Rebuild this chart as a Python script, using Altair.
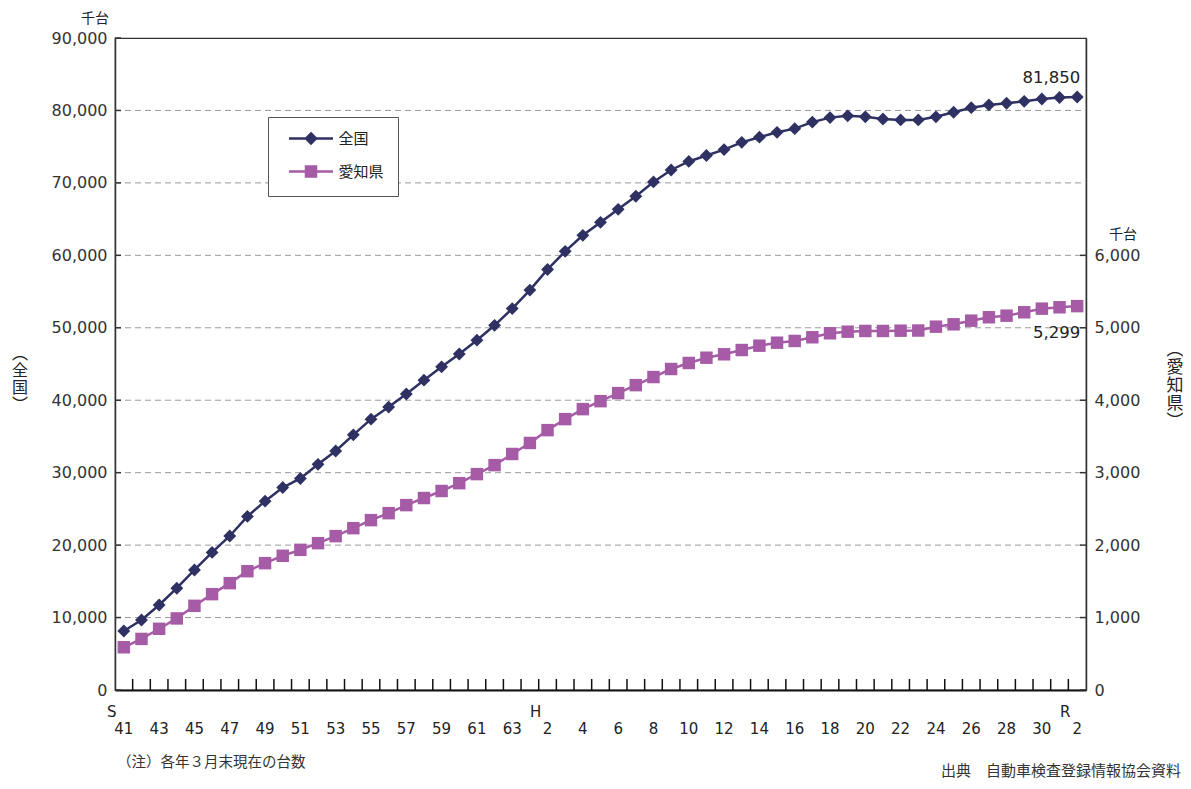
import altair as alt
import pandas as pd

# ---------------- data ----------------
categories = [
    "S41", "S42", "S43", "S44", "S45", "S46", "S47", "S48", "S49", "S50",
    "S51", "S52", "S53", "S54", "S55", "S56", "S57", "S58", "S59", "S60",
    "S61", "S62", "S63",
    "H1", "H2", "H3", "H4", "H5", "H6", "H7", "H8", "H9", "H10",
    "H11", "H12", "H13", "H14", "H15", "H16", "H17", "H18", "H19", "H20",
    "H21", "H22", "H23", "H24", "H25", "H26", "H27", "H28", "H29", "H30",
    "H31", "R2",
]
# 全国 (千台)
zenkoku = [
    8150, 9660, 11730, 14050, 16570, 18990, 21260, 23960, 26070, 27950,
    29200, 31150, 32990, 35220, 37390, 39050, 40860, 42770, 44610, 46380,
    48290, 50340, 52650,
    55200, 58050, 60550, 62760, 64550, 66350, 68150, 70130, 71780, 72960,
    73780, 74600, 75600, 76310, 76980, 77490, 78390, 79010, 79260, 79120,
    78820, 78690, 78690, 79120, 79750, 80380, 80760, 80990, 81260, 81580,
    81790, 81850,
]
# 愛知県 (千台)
aichi = [
    590, 705, 845, 988, 1162, 1323, 1475, 1640, 1751, 1853,
    1935, 2027, 2124, 2234, 2345, 2441, 2552, 2650, 2747, 2855,
    2980, 3104, 3258,
    3410, 3587, 3739, 3877, 3987, 4098, 4208, 4320, 4431, 4514,
    4587, 4634, 4693, 4753, 4794, 4818, 4869, 4924, 4946, 4956,
    4956, 4960, 4962, 5015, 5048, 5098, 5145, 5167, 5214, 5264,
    5283, 5299,
]
series_names = ["全国", "愛知県"]
series_colors = ["#2e3162", "#a55ba5"]

left_ticks = [0, 10000, 20000, 30000, 40000, 50000, 60000, 70000, 80000, 90000]
grid_values = [10000, 20000, 30000, 40000, 50000, 60000, 70000, 80000]
right_ticks = [0, 1000, 2000, 3000, 4000, 5000, 6000]

x_label_cats = ["S41", "S43", "S45", "S47", "S49", "S51", "S53", "S55", "S57",
                "S59", "S61", "S63", "H2", "H4", "H6", "H8", "H10", "H12",
                "H14", "H16", "H18", "H20", "H22", "H24", "H26", "H28", "H30", "R2"]
x_label_texts = ["41", "43", "45", "47", "49", "51", "53", "55", "57",
                 "59", "61", "63", "2", "4", "6", "8", "10", "12",
                 "14", "16", "18", "20", "22", "24", "26", "28", "30", "2"]
era_cats = ["S41", "H2", "R2"]
era_texts = ["S", "H", "R"]

unit_text = "千台"
left_title = ["︵", "全", "国", "︶"]
right_title = ["︵", "愛", "知", "県", "︶"]
note_text = "（注）各年３月末現在の台数"
source_text = "出典　自動車検査登録情報協会資料"

# ---------------- layout constants ----------------
W, H = 971, 652
NUM_FONT = "DejaVu Sans"
JP_FONT = "Noto Sans CJK JP"
TXT = "#222222"

n = len(categories)
df = pd.DataFrame({"cat": categories, "idx": list(range(n)),
                   "zenkoku": zenkoku, "aichi": aichi})
last_df = df[df["idx"] == n - 1]

xlab_df = pd.DataFrame({"idx": [categories.index(c) for c in x_label_cats],
                        "t": x_label_texts})
era_df = pd.DataFrame({"idx": [categories.index(c) for c in era_cats],
                       "t": era_texts})
xtick_df = pd.DataFrame({"idx": [i + 0.5 for i in range(n - 1)]})
ltick_df = pd.DataFrame({"zenkoku": left_ticks})
grid_df = pd.DataFrame({"zenkoku": grid_values})
rtick_df = pd.DataFrame({"aichi": right_ticks})
one = pd.DataFrame({"a": [0]})

xs = alt.Scale(domain=[-0.5, n - 0.5], nice=False, zero=False)
yL = alt.Scale(domain=[0, 90000], nice=False)
yR = alt.Scale(domain=[0, 9000], nice=False)

x_axis = alt.Axis(labels=False, ticks=False, grid=False, title=None,
                  domainColor="#111111", domainWidth=2)
yL_axis = alt.Axis(orient="left", values=left_ticks, format=",.0f", grid=False,
                   ticks=False, labelPadding=8, labelFont=NUM_FONT,
                   labelFontSize=16, labelColor="#333333",
                   domainColor="#333333", domainWidth=1.5, title=None)
yR_axis = alt.Axis(orient="right", values=right_ticks, format=",.0f", grid=False,
                   ticks=False, labelPadding=8, labelFont=NUM_FONT,
                   labelFontSize=16, labelColor="#333333",
                   domainColor="#333333", domainWidth=1.5, title=None)


def X():
    return alt.X("idx:Q", scale=xs, axis=x_axis)


def YL():
    return alt.Y("zenkoku:Q", scale=yL, axis=yL_axis)


def YR():
    return alt.Y("aichi:Q", scale=yR, axis=yR_axis)


# ---------------- left (全国) group ----------------
grid = alt.Chart(grid_df).mark_rule(color="#9a9a9a", strokeWidth=1, strokeDash=[6, 4]).encode(
    y=YL(), x=alt.value(0), x2=alt.value(W))
zen_line = alt.Chart(df).mark_line(color=series_colors[0], strokeWidth=2.5).encode(
    x=X(), y=YL())
zen_pts = alt.Chart(df).mark_point(shape="diamond", filled=True, size=165,
                                   opacity=1, color=series_colors[0]).encode(
    x=X(), y=YL())
zen_lab = alt.Chart(last_df).mark_text(align="right", baseline="middle", dx=3, dy=-19,
                                       font=NUM_FONT, fontSize=16.5, color=TXT).encode(
    x=X(), y=YL(), text=alt.Text("zenkoku:Q", format=","))
l_ticks = alt.Chart(ltick_df).mark_rule(color="#333333", strokeWidth=1.5).encode(
    y=YL(), x=alt.value(0), x2=alt.value(6))
x_ticks = alt.Chart(xtick_df).mark_rule(color="#111111", strokeWidth=1.5).encode(
    x=X(), y=alt.value(H), y2=alt.value(H - 11))
x_nums = alt.Chart(xlab_df).mark_text(baseline="middle", align="center", font=NUM_FONT,
                                      fontSize=15, color=TXT).encode(
    x=X(), y=alt.value(H + 39), text="t:N")
x_eras = alt.Chart(era_df).mark_text(baseline="middle", align="center", dx=-12,
                                     font=NUM_FONT, fontSize=15, color=TXT).encode(
    x=X(), y=alt.value(H + 22), text="t:N")

legend_paths = [
    "M-4.4,0H4.4M0,-1L1,0L0,1L-1,0Z",
    "M-4.4,0H4.4M-1,-1H1V1H-1Z",
]
leg = alt.Legend(title=None, orient="none", legendX=153, legendY=79,
                 direction="vertical", strokeColor="#555555", fillColor="white",
                 padding=14, labelFont=JP_FONT, labelFontSize=15, labelColor=TXT,
                 symbolSize=100, symbolStrokeWidth=2.5, symbolOffset=21.5,
                 labelOffset=20, rowPadding=12)
legend_layer = alt.Chart(pd.DataFrame({"series": series_names})).mark_point(
    filled=True, opacity=1, strokeWidth=2.5).encode(
    color=alt.Color("series:N", scale=alt.Scale(domain=series_names, range=series_colors), legend=leg),
    stroke=alt.Stroke("series:N", scale=alt.Scale(domain=series_names, range=series_colors), legend=leg),
    shape=alt.Shape("series:N", scale=alt.Scale(domain=series_names, range=legend_paths), legend=leg),
).transform_filter("false")

unit_l = alt.Chart(one).mark_text(text=unit_text, font=JP_FONT, fontSize=14, color=TXT,
                                  align="center", baseline="middle").encode(
    x=alt.value(-20), y=alt.value(-19))
unit_r = alt.Chart(one).mark_text(text=unit_text, font=JP_FONT, fontSize=14, color=TXT,
                                  align="center", baseline="middle").encode(
    x=alt.value(1008), y=alt.value(197))
title_l = alt.Chart(one).mark_text(text=left_title, font=JP_FONT, fontSize=16, lineHeight=17,
                                   color=TXT, align="center", baseline="middle").encode(
    x=alt.value(-95), y=alt.value(316))
title_r = alt.Chart(one).mark_text(text=right_title, font=JP_FONT, fontSize=17, lineHeight=18,
                                   color=TXT, align="center", baseline="middle").encode(
    x=alt.value(1060), y=alt.value(312))
note = alt.Chart(one).mark_text(text=note_text, font=JP_FONT, fontSize=14.5, color="#333333",
                                align="left", baseline="middle").encode(
    x=alt.value(2), y=alt.value(725))
source = alt.Chart(one).mark_text(text=source_text, font=JP_FONT, fontSize=15, color="#333333",
                                  align="right", baseline="middle").encode(
    x=alt.value(1066), y=alt.value(733))

left = alt.layer(grid, zen_line, l_ticks, x_ticks, zen_pts, zen_lab, x_nums, x_eras,
                 legend_layer, unit_l, unit_r, title_l, title_r, note, source)

# ---------------- right (愛知県) group ----------------
ai_line = alt.Chart(df).mark_line(color=series_colors[1], strokeWidth=2.5).encode(
    x=X(), y=YR())
ai_pts = alt.Chart(df).mark_point(shape="square", filled=True, size=155,
                                  opacity=1, color=series_colors[1]).encode(
    x=X(), y=YR())
ai_lab = alt.Chart(last_df).mark_text(align="right", baseline="middle", dx=3, dy=27,
                                      font=NUM_FONT, fontSize=16.5, color=TXT).encode(
    x=X(), y=YR(), text=alt.Text("aichi:Q", format=","))
r_ticks = alt.Chart(rtick_df).mark_rule(color="#333333", strokeWidth=1.5).encode(
    y=YR(), x=alt.value(W - 6), x2=alt.value(W))

right = alt.layer(ai_line, r_ticks, ai_pts, ai_lab)

chart = alt.layer(left, right).resolve_scale(y="independent").properties(
    width=W, height=H,
    padding={"left": 107, "top": 30, "right": 97, "bottom": 91},
    autosize=alt.AutoSizeParams(type="none"),
).configure_view(stroke="#333333", strokeWidth=1.2)

chart.save("out.html", embed_options={"renderer": "svg", "actions": False})
